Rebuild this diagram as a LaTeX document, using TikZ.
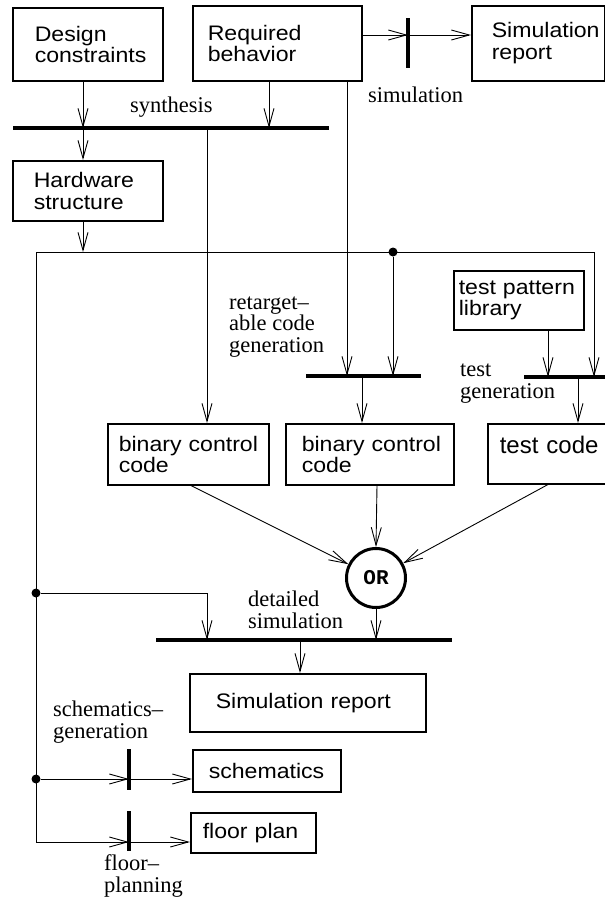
\documentclass[tikz,border=0pt]{standalone}
\usepackage{fontspec}
\setmainfont{Liberation Serif}
\newfontfamily\boxfont[FakeStretch=1.1]{Liberation Sans}
\newfontfamily\plainsans{Liberation Sans}
\newfontfamily\orfont{Liberation Mono}
\usetikzlibrary{arrows.meta,calc}
\newcommand\ind[1]{\hspace*{#1pt}}
\tikzset{
  box/.style={draw, line width=1.5pt, font=\boxfont\fontsize{21}{21.5}\selectfont,
    anchor=north west, align=left, inner sep=0pt},
  % multi-line labels: the base anchor sits on the last line
  lbl/.style={font=\fontsize{22.5}{21.5}\selectfont, anchor=base west, align=left, inner sep=0pt},
  hbar/.style={fill=black, inner sep=0pt, minimum height=4pt},
  vbar/.style={fill=black, inner sep=0pt, minimum width=4pt},
  wire/.style={line width=0.9pt},
  arr/.style={wire, -{Straight Barb[length=18pt,width=10pt,line width=0.9pt]}},
  dot/.style={circle, fill=black, inner sep=0pt, minimum size=9pt},
  gate/.style={circle, draw, line width=3pt, minimum size=59pt, inner sep=0pt,
    font=\orfont\bfseries\fontsize{21}{21}\selectfont}
}
\begin{document}
\begin{tikzpicture}[x=1pt, y=-1pt]
\useasboundingbox (0,0) rectangle (605,898);

% boxes
\node[box, text width=150pt, minimum height=73pt] (dc) at (12,7) {\ind{22}Design\\\ind{22}constraints};
\node[box, text width=169pt, minimum height=75pt] (rb) at (192,5) {\ind{15}Required\\\ind{15}behavior};
\node[box, text width=133pt, minimum height=75pt] (sr1) at (471,5) {\ind{20}Simulation\\\ind{20}report};
\node[box, text width=150pt, minimum height=60pt] (hs) at (12,160) {\ind{21}Hardware\\\ind{21}structure};
\node[box, text width=130pt, minimum height=59pt] (tpl) at (453,270) {\ind{5}test pattern\\\ind{5}library};
\node[box, text width=161pt, minimum height=61pt] (bcc1) at (107,423) {\ind{11}binary control\\\ind{11}code};
\node[box, text width=168pt, minimum height=61pt] (bcc2) at (285,423) {\ind{16}binary control\\\ind{16}code};
\node[box, text width=125pt, minimum height=60pt, text height=17pt, text depth=17pt,
  font=\plainsans\fontsize{24}{24}\selectfont] (tc) at (487,423) {\ind{12}test code};
\node[box, text width=236pt, minimum height=58pt] (sr2) at (189,673) {\ind{26}Simulation report};
\node[box, text width=148pt, minimum height=42pt] (sch) at (192,749) {\ind{16}schematics};
\node[box, text width=125pt, minimum height=40pt] (fp) at (190,812) {\ind{12}floor plan};

% transition bars
\node[hbar, minimum width=316pt] (synth) at (171,128) {};
\node[vbar, minimum height=50pt] (simbar) at (408,43) {};
\node[hbar, minimum width=115pt] (rtbar) at (363.5,376) {};
\node[hbar, minimum width=84pt] (tgbar) at (566,377) {};
\node[hbar, minimum width=296pt] (dsbar) at (304,640) {};
\node[vbar, minimum height=41pt] (scbar) at (129,769.5) {};
\node[vbar, minimum height=40pt] (fpbar) at (129,831) {};

% OR gate
\node[gate] (or) at (376,578) {OR};

% junctions and bends
\node[dot] (j1) at (393,252) {};
\node[dot] (j2) at (36,593) {};
\node[dot] (j3) at (36,779) {};
\coordinate (c1) at (36,252);
\coordinate (c2) at (594,252);
\coordinate (c3) at (36,842);
\coordinate (c4) at (207,593);

% labels
\node[lbl] (l1) at (130,112) {synthesis};
\node[lbl] (l2) at (368,102) {simulation};
\node[lbl] (l3) at (229,352) {retarget--\\able code\\generation};
\node[lbl] (l4) at (460,398) {test\\generation};
\node[lbl] (l5) at (248,628) {detailed\\simulation};
\node[lbl] (l6) at (53,738) {schematics--\\generation};
\node[lbl] (l7) at (104,892) {floor--\\planning};

% tap points on the boxes
\coordinate (dcout) at ([xshift=71pt]dc.south west);
\coordinate (rbout) at ([xshift=77pt]rb.south west);
\coordinate (rbdown) at ([xshift=155pt]rb.south west);
\coordinate (rbright) at ([yshift=-30pt]rb.north east);
\coordinate (synout) at (207,128);
\coordinate (hsout) at ([xshift=71pt]hs.south west);
\coordinate (tplout) at ([xshift=95pt]tpl.south west);
\coordinate (rtout) at (362,376);
\coordinate (tgout) at (578,377);
\coordinate (b1out) at ([xshift=84pt]bcc1.south west);
\coordinate (b2out) at ([xshift=92pt]bcc2.south west);
\coordinate (tcout) at ([xshift=61pt]tc.south west);
\coordinate (dsout) at (300,640);

% synthesis
\draw[arr] (dcout) -- (dcout |- synth);
\draw[arr] (rbout) -- (rbout |- synth);
\draw[arr] (dcout |- synth) -- (hs.north -| dcout);
\draw[arr] (synout) -- (synout |- bcc1.north);

% simulation
\draw[arr] (rbright) -- (rbright -| simbar);
\draw[arr] (rbright -| simbar) -- (rbright -| sr1.west);

% hardware structure distribution
\draw[arr] (hsout) -- (hsout |- c1);
\draw[wire] (c1) -- (c3);
\draw[arr] (c1) -- (c2) -- (c2 |- tgbar);
\draw[arr] (j1) -- (j1 |- rtbar);
\draw[arr] (rbdown) -- (rbdown |- rtbar);

% test generation
\draw[arr] (tplout) -- (tplout |- tgbar);
\draw[arr] (tgout) -- (tgout |- tc.north);

% retargetable code generation
\draw[arr] (rtout) -- (rtout |- bcc2.north);

% merge into OR
\draw[arr] (b1out) -- (or);
\draw[arr] (b2out) -- (or.north);
\draw[arr] (tcout) -- (or);

% detailed simulation
\draw[arr] (or.south) -- (or.south |- dsbar);
\draw[arr] (j2) -- (c4) -- (c4 |- dsbar);
\draw[arr] (dsout) -- (dsout |- sr2.north);

% schematics generation
\draw[arr] (j3) -- (j3 -| scbar);
\draw[arr] (j3 -| scbar) -- (j3 -| sch.west);

% floor planning
\draw[arr] (c3) -- (c3 -| fpbar);
\draw[arr] (c3 -| fpbar) -- (c3 -| fp.west);
\end{tikzpicture}
\end{document}
